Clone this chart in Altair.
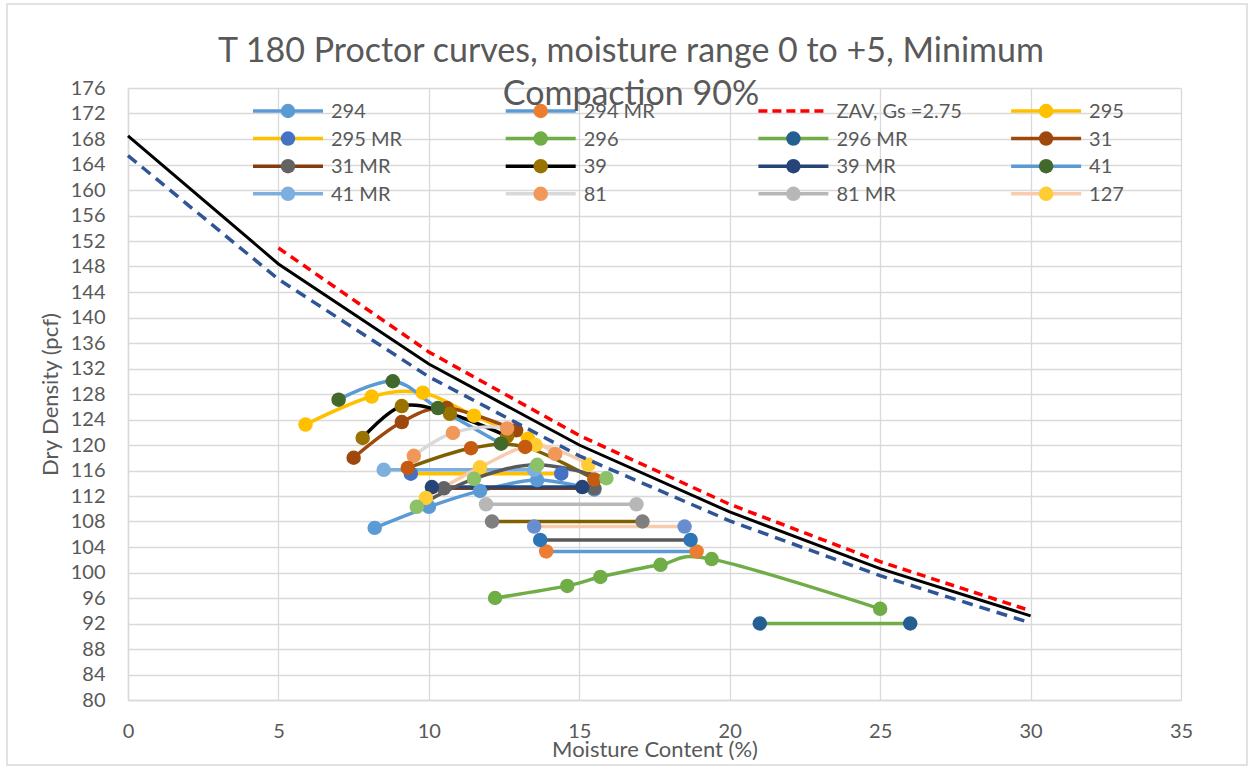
import altair as alt
import pandas as pd

# ---------------- text ----------------
TITLE_LINES = ["T 180 Proctor curves, moisture range 0 to +5, Minimum", "Compaction 90%"]
X_TITLE = "Moisture Content (%)"
Y_TITLE = "Dry Density (pcf)"
X_TICKS = [0, 5, 10, 15, 20, 25, 30, 35]
Y_TICKS = list(range(80, 177, 4))

# ---------------- Proctor series ----------------
series_names = ["294", "294 MR", "295", "295 MR", "296", "296 MR", "31", "31 MR",
                "39", "39 MR", "41", "41 MR", "81", "81 MR", "127", "127 MR",
                "A", "A MR", "B", "B MR"]
series_moisture = {
    "294":    [8.2, 10.0, 11.7, 13.6, 15.5],
    "294 MR": [13.9, 18.9],
    "295":    [5.9, 8.1, 9.8, 11.5, 13.3],
    "295 MR": [9.4, 14.4],
    "296":    [12.2, 14.6, 15.7, 17.7, 19.4, 25.0],
    "296 MR": [21.0, 26.0],
    "31":     [7.5, 9.1, 10.6, 12.9],
    "31 MR":  [10.5, 15.5],
    "39":     [7.8, 9.1, 10.7, 12.6],
    "39 MR":  [10.1, 15.1],
    "41":     [7.0, 8.8, 10.3, 12.4],
    "41 MR":  [8.5, 13.5],
    "81":     [9.5, 10.8, 12.6, 14.2],
    "81 MR":  [11.9, 16.9],
    "127":    [9.9, 11.7, 13.55, 15.3],
    "127 MR": [13.5, 18.5],
    "A":      [9.3, 11.4, 13.2, 15.5],
    "A MR":   [12.1, 17.1],
    "B":      [9.6, 11.5, 13.6, 15.9],
    "B MR":   [13.7, 18.7],
}
series_density = {
    "294":    [107.0, 110.3, 112.8, 114.5, 113.0],
    "294 MR": [103.3, 103.3],
    "295":    [123.2, 127.6, 128.2, 124.6, 121.0],
    "295 MR": [115.5, 115.5],
    "296":    [96.0, 97.9, 99.3, 101.2, 102.1, 94.3],
    "296 MR": [92.0, 92.0],
    "31":     [118.0, 123.6, 125.8, 122.3],
    "31 MR":  [113.2, 113.2],
    "39":     [121.1, 126.1, 124.9, 121.4],
    "39 MR":  [113.4, 113.4],
    "41":     [127.1, 130.0, 125.8, 120.2],
    "41 MR":  [116.1, 116.1],
    "81":     [118.3, 121.9, 122.6, 118.6],
    "81 MR":  [110.7, 110.7],
    "127":    [111.7, 116.5, 120.0, 116.9],
    "127 MR": [107.2, 107.2],
    "A":      [116.4, 119.5, 119.7, 114.6],
    "A MR":   [108.0, 108.0],
    "B":      [110.3, 114.7, 116.9, 114.8],
    "B MR":   [105.1, 105.1],
}
line_colors = {
    "294": "#5B9BD5", "294 MR": "#5B9BD5", "295": "#FFC000", "295 MR": "#FFC000",
    "296": "#70AD47", "296 MR": "#70AD47", "31": "#9E480E", "31 MR": "#843C0C",
    "39": "#000000", "39 MR": "#264478", "41": "#5B9BD5", "41 MR": "#7CAFDD",
    "81": "#D9D9D9", "81 MR": "#B7B7B7", "127": "#F8CBAD", "127 MR": "#F8CBAD",
    "A": "#7F6000", "A MR": "#7F6000", "B": "#595959", "B MR": "#595959",
}
marker_colors = {
    "294": "#5B9BD5", "294 MR": "#ED7D31", "295": "#FFC000", "295 MR": "#4472C4",
    "296": "#70AD47", "296 MR": "#255E91", "31": "#9E480E", "31 MR": "#636363",
    "39": "#997300", "39 MR": "#264478", "41": "#43682B", "41 MR": "#7CAFDD",
    "81": "#F1975A", "81 MR": "#B7B7B7", "127": "#FFCD33", "127 MR": "#698ED0",
    "A": "#C55A11", "A MR": "#7F7F7F", "B": "#8CC168", "B MR": "#2E75B6",
}

# ---------------- reference lines ----------------
ref_moisture = [0, 5, 10, 15, 20, 25, 30]
black_density = [168.5, 148.4, 132.7, 120.0, 109.5, 100.6, 93.2]
blue_density = [165.4, 146.0, 130.7, 118.3, 108.1, 99.5, 92.1]
zav_moisture = [5, 10, 15, 20, 25, 30]
zav_density = [150.9, 134.6, 121.5, 110.7, 101.7, 94.0]

# ---------------- legend entries ----------------
legend_names = ["294", "294 MR", "ZAV, Gs =2.75", "295", "295 MR", "296", "296 MR", "31",
                "31 MR", "39", "39 MR", "41", "41 MR", "81", "81 MR", "127"]

# ---------------- layout ----------------
W, H = 1053, 612
X_DOM = [0, 35]
Y_DOM = [80, 176]
PX_X = W / (X_DOM[1] - X_DOM[0])
PX_Y = H / (Y_DOM[1] - Y_DOM[0])
FONT = "Lato"
GREY = "#595959"


def to_dx(px):
    return X_DOM[0] + px / PX_X


def to_dy(px):
    return Y_DOM[1] - px / PX_Y


rows = []
for k, name in enumerate(series_names):
    for j, (mx, dy) in enumerate(zip(series_moisture[name], series_density[name])):
        rows.append({"series": name, "x": mx, "y": dy, "lc": line_colors[name],
                     "mc": marker_colors[name], "ord": k, "pt": j})
df = pd.DataFrame(rows)

ref_df = pd.DataFrame(
    [{"ref": "black", "x": a, "y": b} for a, b in zip(ref_moisture, black_density)]
    + [{"ref": "blue", "x": a, "y": b} for a, b in zip(ref_moisture, blue_density)]
    + [{"ref": "zav", "x": a, "y": b} for a, b in zip(zav_moisture, zav_density)]
)

# legend layout (computed from entry index)
leg_rows = []
for i, name in enumerate(legend_names):
    col, row = i % 4, i // 4
    px0 = 125 + col * 252.7
    py = 23 + row * 27.6
    is_zav = name.startswith("ZAV")
    leg_rows.append({"name": name, "x0": to_dx(px0), "x1": to_dx(px0 + 70),
                     "xm": to_dx(px0 + 35), "xt": to_dx(px0 + 78), "ly": to_dy(py),
                     "lc": "#FF0000" if is_zav else line_colors[name],
                     "mc": "#FF0000" if is_zav else marker_colors[name],
                     "zav": is_zav})
leg = pd.DataFrame(leg_rows)

title_df = pd.DataFrame({"t": TITLE_LINES,
                         "tx": [to_dx(503)] * len(TITLE_LINES),
                         "ty": [to_dy(-26 + 43 * i) for i in range(len(TITLE_LINES))]})

xs = alt.Scale(domain=X_DOM, nice=False, zero=False)
ys = alt.Scale(domain=Y_DOM, nice=False, zero=False)
x_axis = alt.Axis(values=X_TICKS, title=X_TITLE, grid=True, labelPadding=21,
                  titlePadding=-2, labelOverlap=False, labelFlush=False,
                  tickCount=len(X_TICKS))
y_axis = alt.Axis(values=Y_TICKS, title=Y_TITLE, grid=True, labelPadding=23,
                  titlePadding=8, labelOverlap=False, labelFlush=False,
                  tickCount=len(Y_TICKS))


def X(field):
    return alt.X(field, scale=xs, axis=x_axis)


def Y(field):
    return alt.Y(field, scale=ys, axis=y_axis)


base = alt.Chart(df)
lines = base.mark_line(interpolate="cardinal", strokeWidth=3.5).encode(
    x=X("x:Q"), y=Y("y:Q"),
    detail="series:N",
    color=alt.Color("lc:N", scale=None),
    order="pt:Q",
)
points = base.mark_circle(size=210, opacity=1).encode(
    x=X("x:Q"), y=Y("y:Q"),
    color=alt.Color("mc:N", scale=None),
    order="ord:Q",
)

rb = alt.Chart(ref_df)
black = rb.transform_filter(alt.datum.ref == "black").mark_line(
    color="#000000", strokeWidth=3).encode(x=X("x:Q"), y=Y("y:Q"))
blue = rb.transform_filter(alt.datum.ref == "blue").mark_line(
    color="#2F5597", strokeWidth=3.5, strokeDash=[11, 7]).encode(x=X("x:Q"), y=Y("y:Q"))
zav = rb.transform_filter(alt.datum.ref == "zav").mark_line(
    color="#FF0000", strokeWidth=3.5, strokeDash=[9, 6]).encode(x=X("x:Q"), y=Y("y:Q"))

lb = alt.Chart(leg)
leg_lines = lb.transform_filter(~alt.datum.zav).mark_rule(strokeWidth=3.5).encode(
    x=X("x0:Q"), x2="x1:Q", y=Y("ly:Q"), color=alt.Color("lc:N", scale=None))
leg_zav = lb.transform_filter(alt.datum.zav).mark_rule(strokeWidth=3.5, strokeDash=[9, 5]).encode(
    x=X("x0:Q"), x2="x1:Q", y=Y("ly:Q"), color=alt.Color("lc:N", scale=None))
leg_pts = lb.transform_filter(~alt.datum.zav).mark_circle(size=210, opacity=1).encode(
    x=X("xm:Q"), y=Y("ly:Q"), color=alt.Color("mc:N", scale=None))
leg_text = lb.mark_text(align="left", baseline="middle", font=FONT, fontSize=20,
                        color=GREY, dy=1).encode(x=X("xt:Q"), y=Y("ly:Q"), text="name:N")

title_text = alt.Chart(title_df).mark_text(
    align="center", baseline="alphabetic", font=FONT, fontSize=34, color=GREY).encode(
    x=X("tx:Q"), y=Y("ty:Q"), text="t:N")

border = alt.Chart(pd.DataFrame({"k": [0]})).mark_rect(
    fillOpacity=0, stroke="#D9D9D9", strokeWidth=1.5).encode(
    x=alt.value(-121), x2=alt.value(1119), y=alt.value(-84), y2=alt.value(677))

chart = alt.layer(
    lines, points, black, blue, zav, leg_lines, leg_zav, leg_pts, leg_text, title_text, border
).properties(
    width=W, height=H,
    autosize=alt.AutoSizeParams(type="none"),
    padding={"left": 128, "top": 88, "right": 1253 - 128 - W, "bottom": 768 - 88 - H},
    background="white",
).configure_view(stroke=None).configure_axis(
    domainColor="#D9D9D9", domainWidth=1.5, gridColor="#D9D9D9", gridWidth=1.3,
    ticks=False, labelFont=FONT, labelFontSize=20, labelColor=GREY,
    titleFont=FONT, titleFontSize=22, titleColor=GREY, titleFontWeight="normal",
)

chart.save("out.html", embed_options={"renderer": "svg", "actions": False})
